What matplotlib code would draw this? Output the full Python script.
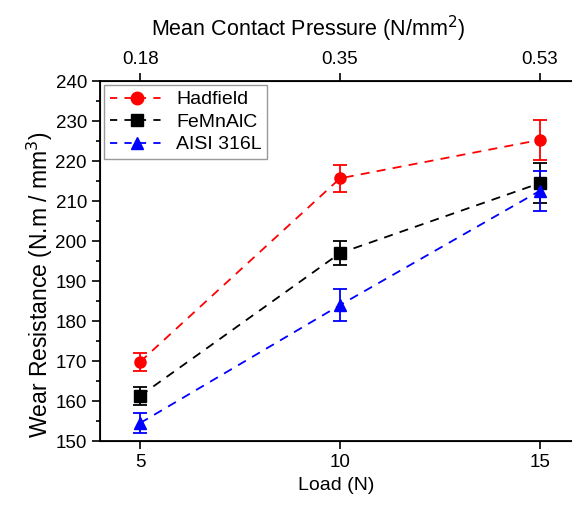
import numpy as np
import matplotlib.pyplot as plt
from matplotlib.lines import Line2D
from matplotlib.ticker import MultipleLocator

plt.rcParams['font.family'] = ['Liberation Sans', 'DejaVu Sans']

load = [5, 10, 15]
pressure_labels = ['0.18', '0.35', '0.53']

hadfield = [169.8, 215.7, 225.3]
hadfield_err = [2.3, 3.4, 5.0]
femnalc = [161.3, 197.0, 214.5]
femnalc_err = [2.3, 3.0, 5.0]
aisi = [154.5, 184.0, 212.6]
aisi_err = [2.4, 4.0, 5.0]

fig = plt.figure(figsize=(5.72, 5.07), dpi=100)
ax = fig.add_axes([0.175, 0.130, 0.825, 0.710])

series = [
    (hadfield, hadfield_err, 'red', 'o', 'Hadfield'),
    (femnalc, femnalc_err, 'black', 's', 'FeMnAlC'),
    (aisi, aisi_err, 'blue', '^', 'AISI 316L'),
]
handles = []
for vals, err, col, mk, lab in series:
    ax.errorbar(load, vals, yerr=err, color=col, marker=mk, markersize=8,
                linestyle=(0, (5, 4)), linewidth=1.3, capsize=5,
                elinewidth=1.3, capthick=1.3)
    # legend entries without the error bars
    handles.append(Line2D([], [], color=col, marker=mk, markersize=9,
                          linestyle=(0, (4, 4)), linewidth=1.3, label=lab))

ax.set_xlim(4, 15.8)
ax.set_ylim(150, 240)
ax.set_xticks(load)
ax.yaxis.set_major_locator(MultipleLocator(10))
ax.yaxis.set_minor_locator(MultipleLocator(5))
ax.tick_params(axis='both', which='major', labelsize=13.5, length=6, width=1.2)
ax.tick_params(axis='y', which='minor', length=3, width=1.2)
ax.spines['right'].set_visible(False)
for s in ['left', 'bottom', 'top']:
    ax.spines[s].set_linewidth(1.3)

ax.set_xlabel('Load (N)', fontsize=14)
ax.set_ylabel('Wear Resistance (N.m / mm$^3$)', fontsize=16.5)
ax.yaxis.set_label_coords(-0.095, 0.435)

top = ax.twiny()
top.set_xlim(ax.get_xlim())
top.set_xticks(load)
top.set_xticklabels(pressure_labels)
top.tick_params(axis='x', labelsize=13.5, length=6, width=1.2)
top.spines['right'].set_visible(False)
top.set_xlabel('Mean Contact Pressure (N/mm$^2$)', fontsize=15.5)
top.xaxis.set_label_coords(0.44, 1.125)

leg = ax.legend(handles=handles, loc='upper left', fontsize=14, frameon=True,
                fancybox=False, edgecolor='gray', borderaxespad=0.2,
                handlelength=2.8, labelspacing=0.25, borderpad=0.3,
                handletextpad=0.6)
leg.get_frame().set_linewidth(1.0)

fig.savefig('out.png', dpi=100)
